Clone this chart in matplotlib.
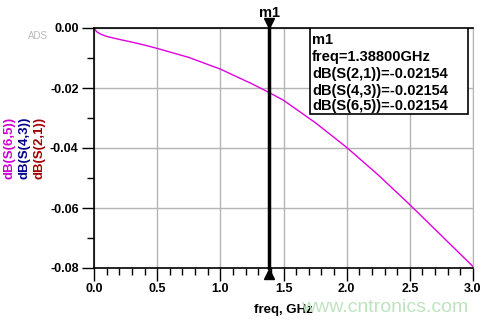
import numpy as np
import matplotlib
matplotlib.use("Agg")
import matplotlib.pyplot as plt
from matplotlib.patches import Rectangle
from matplotlib.transforms import offset_copy

# values
freq = [0.0, 0.02, 0.05, 0.1, 0.2, 0.3, 0.4, 0.5, 0.75, 1.0, 1.25, 1.388,
        1.5, 1.75, 2.0, 2.25, 2.5, 2.75, 3.0]
s_db = [0.0, -0.0012, -0.0020, -0.0028, -0.0038, -0.0047, -0.0057, -0.0068,
        -0.0098, -0.0137, -0.0186, -0.02154, -0.0241, -0.0315, -0.0398,
        -0.0490, -0.0589, -0.0692, -0.0795]
marker_freq = 1.388
marker_lines = ["m1", "freq=1.38800GHz", "dB(S(2,1))=-0.02154",
                "dB(S(4,3))=-0.02154", "dB(S(6,5))=-0.02154"]
ylabels = ["dB(S(6,5))", "dB(S(4,3))", "dB(S(2,1))"]
ylabel_colors = ["#d000d0", "#00008c", "#a00000"]

plt.rcParams['font.family'] = ['Liberation Sans', 'DejaVu Sans']

fig = plt.figure(figsize=(4.87, 3.22), dpi=100)
ax = fig.add_axes([94/487, 1 - 268/322, 379/487, 240/322])

ax.plot(freq, s_db, color="#e000e0", linewidth=1.0)

ax.set_xlim(0, 3.0)
ax.set_ylim(-0.08, 0.0)
ax.set_xticks(np.arange(0, 3.01, 0.5))
ax.set_xticks(np.arange(0, 3.01, 0.1), minor=True)
ax.set_yticks(np.arange(-0.08, 0.001, 0.02))
ax.set_yticks(np.arange(-0.08, 0.001, 0.01), minor=True)
ax.set_xticklabels([f"{v:.1f}" for v in np.arange(0, 3.01, 0.5)])
ax.set_yticklabels([f"{v:.2f}" for v in np.arange(-0.08, 0.001, 0.02)])
ax.tick_params(which="major", length=9, width=1, color="black",
               labelsize=9, pad=2)
ax.tick_params(which="minor", length=5, width=1, color="black")
for lab in ax.get_xticklabels() + ax.get_yticklabels():
    lab.set_fontweight("bold")

ax.grid(True, which="major", color="#b4b4b4", linewidth=1)
for side in ["left", "bottom", "top"]:
    ax.spines[side].set_color("black")
    ax.spines[side].set_linewidth(1.2)
ax.spines["right"].set_color("#b4b4b4")

ax.set_xlabel("freq, GHz", fontsize=9.5, fontweight="bold", labelpad=6)

# marker m1
ax.plot([marker_freq, marker_freq], [-0.08, 0.0], color="black",
        linewidth=2.5, clip_on=False, zorder=5)
top_tr = offset_copy(ax.transData, fig=fig, x=0, y=3.5, units="points")
bot_tr = offset_copy(ax.transData, fig=fig, x=0, y=-4, units="points")
ax.plot([marker_freq], [0.0], marker="v", markersize=7, color="black",
        clip_on=False, zorder=6, transform=top_tr, linestyle="none")
ax.plot([marker_freq], [-0.08], marker="^", markersize=7, color="black",
        clip_on=False, zorder=6, transform=bot_tr, linestyle="none")
ax.text(marker_freq, 1.0, "m1",
        transform=offset_copy(ax.get_xaxis_transform(), fig=fig, x=0, y=6,
                              units="points"),
        ha="center", va="bottom", fontsize=10.5, fontweight="bold")

# marker readout box
box_x0 = (310 - 94) / 379
box_x1 = (467.5 - 94) / 379
box_y0 = 1 - (114 - 28) / 240
ax.add_patch(Rectangle((box_x0, box_y0), box_x1 - box_x0, 1 - box_y0,
                       transform=ax.transAxes, facecolor="white",
                       edgecolor="black", linewidth=1.2, zorder=7))
line_y = [40, 57, 74, 91, 106]
for txt, py in zip(marker_lines, line_y):
    ax.text(box_x0 + 0.005, 1 - (py - 28) / 240, txt, transform=ax.transAxes,
            ha="left", va="center", fontsize=10.5, fontweight="bold",
            zorder=8)

# stacked y labels
for i, (txt, col) in enumerate(zip(ylabels, ylabel_colors)):
    fig.text((10 + 14.5 * i) / 487, 1 - 148 / 322, txt, rotation=90,
             ha="center", va="center", color=col, fontsize=9.5,
             fontweight="bold")

fig.text(38 / 487, 1 - 36 / 322, "ADS", ha="center", va="center",
         color="#b8b8b8", fontsize=7)
fig.text(385 / 487, 1 - 307 / 322, "www.cntronics.com", ha="center",
         va="center", color="#bfe3bf", fontsize=14)

fig.savefig("out.png", dpi=100)
